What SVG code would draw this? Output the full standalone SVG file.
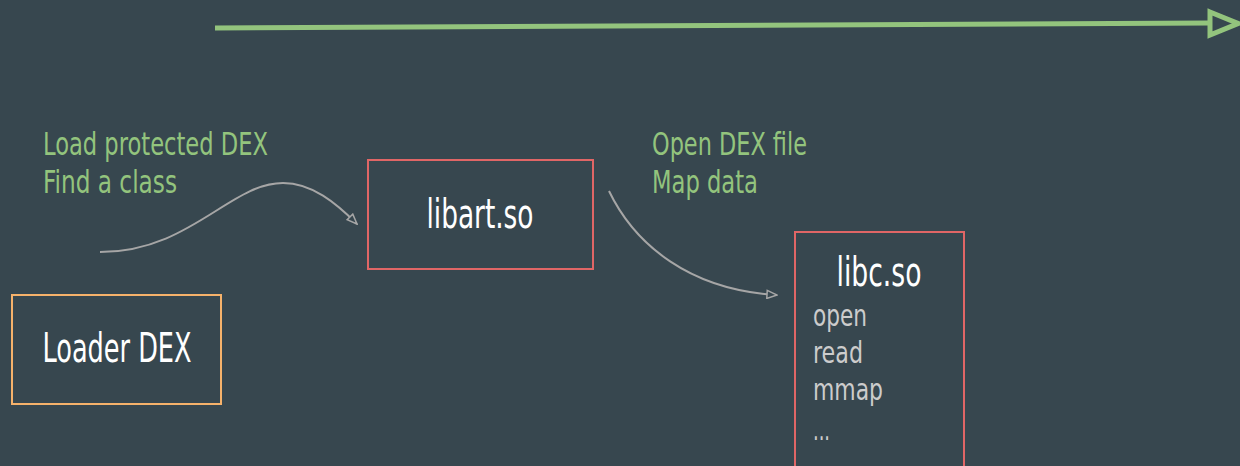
<svg xmlns="http://www.w3.org/2000/svg" width="1240" height="466" viewBox="0 0 1240 466">
  <style>
    .bg { fill: #37474f; }
    .box { fill: none; stroke-width: 2; }
    .title { font-family: "DejaVu Sans Condensed", "Liberation Sans", sans-serif; fill: #ffffff; font-size: 40px; text-anchor: middle; }
    .note { font-family: "DejaVu Sans Condensed", "Liberation Sans", sans-serif; fill: #93c47d; font-size: 32px; }
    .item { font-family: "DejaVu Sans Condensed", "Liberation Sans", sans-serif; fill: #cccccc; font-size: 30px; }
    .flow { fill: none; stroke: #a6a6a6; stroke-width: 2; }
  </style>
  <defs>
    <marker id="open-tip" viewBox="0 0 12 10" refX="11" refY="5" markerWidth="12" markerHeight="10" markerUnits="userSpaceOnUse" orient="auto">
      <path d="M1,1 L11,5 L1,9 Z" fill="#37474f" stroke="#a6a6a6" stroke-width="1.5"/>
    </marker>
  </defs>
  <rect class="bg" x="0" y="0" width="1240" height="466"/>

  <!-- timeline arrow -->
  <g id="timeline">
    <line x1="215" y1="28" x2="1210" y2="23" stroke="#93c47d" stroke-width="5"/>
    <path d="M1210,12 L1238,23.5 L1210,35 Z" fill="#37474f" stroke="#93c47d" stroke-width="5" stroke-linejoin="miter"/>
  </g>

  <g id="connectors">
    <path class="flow" d="M100,252 C190,252 230,183 283,183 C312,183 336,203 357,224" marker-end="url(#open-tip)"/>
    <path class="flow" d="M609,191 C635,245 690,290 777,295" marker-end="url(#open-tip)"/>
  </g>

  <g id="note-load">
    <text class="note" x="43" y="155" textLength="225" lengthAdjust="spacingAndGlyphs">Load protected DEX</text>
    <text class="note" x="43" y="193" textLength="134" lengthAdjust="spacingAndGlyphs">Find a class</text>
  </g>

  <g id="note-open">
    <text class="note" x="652" y="155" textLength="155" lengthAdjust="spacingAndGlyphs">Open DEX file</text>
    <text class="note" x="652" y="193" textLength="106" lengthAdjust="spacingAndGlyphs">Map data</text>
  </g>

  <g id="loader-dex">
    <rect class="box" x="12" y="295" width="209" height="109" stroke="#f6b26b"/>
    <text class="title" x="117" y="362" textLength="149" lengthAdjust="spacingAndGlyphs">Loader DEX</text>
  </g>

  <g id="libart">
    <rect class="box" x="368" y="160" width="225" height="109" stroke="#e06666"/>
    <text class="title" x="480" y="228" textLength="107" lengthAdjust="spacingAndGlyphs">libart.so</text>
  </g>

  <g id="libc">
    <rect class="box" x="795" y="232" width="169" height="250" stroke="#e06666"/>
    <text class="title" x="879" y="286" textLength="85" lengthAdjust="spacingAndGlyphs">libc.so</text>
    <text class="item" x="813" y="326" textLength="54" lengthAdjust="spacingAndGlyphs">open</text>
    <text class="item" x="813" y="363" textLength="50" lengthAdjust="spacingAndGlyphs">read</text>
    <text class="item" x="813" y="400" textLength="70" lengthAdjust="spacingAndGlyphs">mmap</text>
    <text class="item" x="813" y="440" textLength="17" lengthAdjust="spacingAndGlyphs">...</text>
  </g>
</svg>
